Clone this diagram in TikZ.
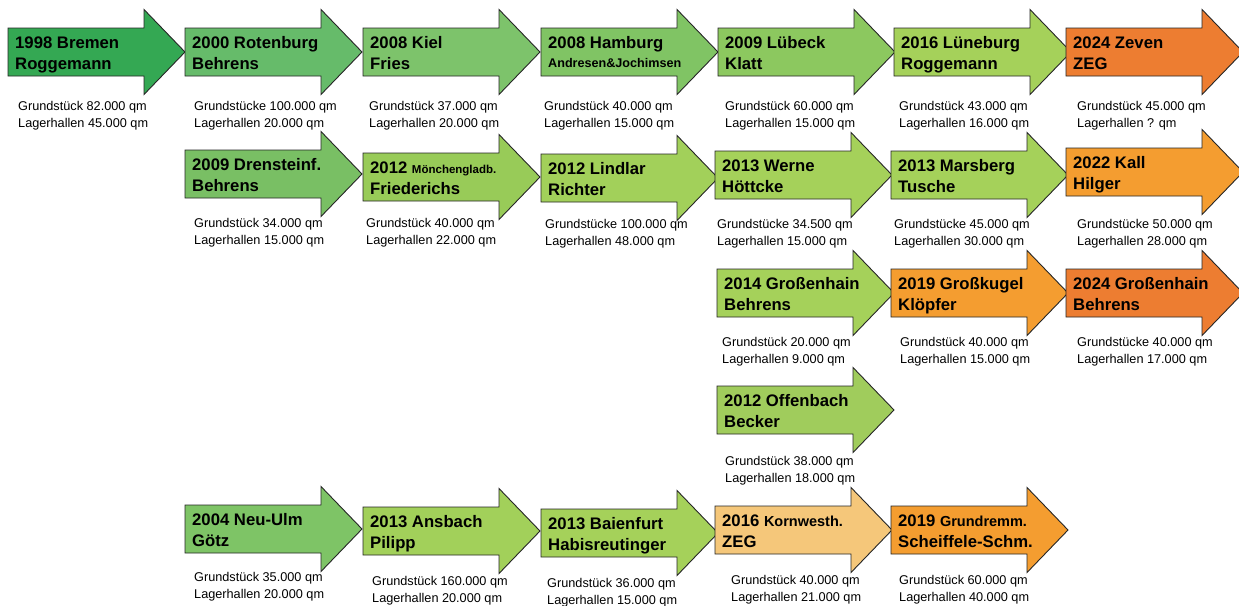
\documentclass[tikz,border=0pt]{standalone}
\usepackage{fontspec}
\setmainfont{Liberation Sans}
\definecolor{cA}{RGB}{52,168,83}
\definecolor{cB}{RGB}{102,187,106}
\definecolor{cC}{RGB}{125,195,107}
\definecolor{cD}{RGB}{128,196,100}
\definecolor{cE}{RGB}{140,200,95}
\definecolor{cF}{RGB}{165,209,90}
\definecolor{cG}{RGB}{121,191,100}
\definecolor{cH}{RGB}{152,203,88}
\definecolor{cI}{RGB}{162,208,90}
\definecolor{cJ}{RGB}{160,204,92}
\definecolor{cK}{RGB}{126,196,102}
\definecolor{oR}{RGB}{237,125,49}
\definecolor{oA}{RGB}{244,157,48}
\definecolor{oT}{RGB}{245,199,122}
\newcommand\tarrow[6]{%
  \path[arrowshape, fill=#4] (#2,#3-24) -- (#2+136,#3-24) -- (#2+136,#3-42.5) -- (#2+177,#3) -- (#2+136,#3+42.5) -- (#2+136,#3+24) -- (#2,#3+24) -- cycle;
  \node[ttl, anchor=base west] (#1a) at (#2+7,#3-4) {#5};
  \node[ttl, anchor=base west] (#1b) at (#2+7,#3+17) {#6};
}
\newcommand\tlabel[5]{%
  \node[lbl, anchor=west] (#1) at (#2,#3+2) {#4\\#5};
}
\newcommand\smf[2]{{\fontsize{#1}{#1}\selectfont #2}}
\begin{document}
\begin{tikzpicture}[x=1pt,y=-1pt,
  arrowshape/.style={draw=black!85, line width=0.9pt, line join=miter},
  ttl/.style={font=\fontsize{16.7}{20}\selectfont\bfseries, inner sep=0pt},
  lbl/.style={font=\fontsize{12.7}{17}\selectfont, align=left, inner sep=0pt}]
\useasboundingbox[fill=white] (0,0) rectangle (1239,605);
% Row 1
\tarrow{a1}{8}{52}{cA}{1998 Bremen}{Roggemann}
\tarrow{a2}{185}{52}{cB}{2000 Rotenburg}{Behrens}
\tarrow{a3}{363}{52}{cC}{2008 Kiel}{Fries}
\tarrow{a4}{541}{52}{cD}{2008 Hamburg}{}
\node[ttl, anchor=base west, font=\fontsize{12.6}{14}\selectfont\bfseries] (a4c) at (548,67) {Andresen\&Jochimsen};
\tarrow{a5}{718}{52}{cE}{2009 Lübeck}{Klatt}
\tarrow{a6}{894}{52}{cF}{2016 Lüneburg}{Roggemann}
\tarrow{a7}{1066}{52}{oR}{2024 Zeven}{ZEG}
\tlabel{l1}{18}{113.5}{Grundstück 82.000 qm}{Lagerhallen 45.000 qm}
\tlabel{l2}{194}{113.5}{Grundstücke 100.000 qm}{Lagerhallen 20.000 qm}
\tlabel{l3}{369}{113.5}{Grundstück 37.000 qm}{Lagerhallen 20.000 qm}
\tlabel{l4}{544}{113.5}{Grundstück 40.000 qm}{Lagerhallen 15.000 qm}
\tlabel{l5}{725}{113.5}{Grundstück 60.000 qm}{Lagerhallen 15.000 qm}
\tlabel{l6}{899}{113.5}{Grundstück 43.000 qm}{Lagerhallen 16.000 qm}
\tlabel{l7}{1077}{113.5}{Grundstück 45.000 qm}{Lagerhallen ? qm}
% Row 2
\tarrow{b1}{185}{174}{cG}{2009 Drensteinf.}{Behrens}
\tarrow{b2}{363}{177}{cH}{2012 \smf{11.5}{Mönchengladb.}}{Friederichs}
\tarrow{b3}{541}{178}{cI}{2012 Lindlar}{Richter}
\tarrow{b4}{715}{175}{cF}{2013 Werne}{Höttcke}
\tarrow{b5}{891}{175}{cF}{2013 Marsberg}{Tusche}
\tarrow{b6}{1066}{172}{oA}{2022 Kall}{Hilger}
\tlabel{m1}{194}{230.5}{Grundstück 34.000 qm}{Lagerhallen 15.000 qm}
\tlabel{m2}{366}{230.5}{Grundstück 40.000 qm}{Lagerhallen 22.000 qm}
\tlabel{m3}{545}{231.5}{Grundstücke 100.000 qm}{Lagerhallen 48.000 qm}
\tlabel{m4}{717}{231.5}{Grundstücke 34.500 qm}{Lagerhallen 15.000 qm}
\tlabel{m5}{894}{232}{Grundstücke 45.000 qm}{Lagerhallen 30.000 qm}
\tlabel{m6}{1077}{231.5}{Grundstücke 50.000 qm}{Lagerhallen 28.000 qm}
% Row 3
\tarrow{c1}{717}{293}{cF}{2014 Großenhain}{Behrens}
\tarrow{c2}{891}{293}{oA}{2019 Großkugel}{Klöpfer}
\tarrow{c3}{1066}{293}{oR}{2024 Großenhain}{Behrens}
\tlabel{n1}{722}{349.5}{Grundstück 20.000 qm}{Lagerhallen 9.000 qm}
\tlabel{n2}{900}{349.5}{Grundstück 40.000 qm}{Lagerhallen 15.000 qm}
\tlabel{n3}{1077}{349.5}{Grundstücke 40.000 qm}{Lagerhallen 17.000 qm}
% Row 4
\tarrow{d1}{717}{410}{cJ}{2012 Offenbach}{Becker}
\tlabel{o1}{725}{469}{Grundstück 38.000 qm}{Lagerhallen 18.000 qm}
% Row 5
\tarrow{e1}{185}{529}{cK}{2004 Neu-Ulm}{Götz}
\tarrow{e2}{363}{531}{cI}{2013 Ansbach}{Pilipp}
\tarrow{e3}{541}{533}{cF}{2013 Baienfurt}{Habisreutinger}
\tarrow{e4}{715}{530}{oT}{2016 \smf{14.5}{Kornwesth.}}{ZEG}
\tarrow{e5}{891}{530}{oA}{2019 \smf{14.5}{Grundremm.}}{Scheiffele-Schm.}
\tlabel{p1}{194}{585}{Grundstück 35.000 qm}{Lagerhallen 20.000 qm}
\tlabel{p2}{372}{588.5}{Grundstück 160.000 qm}{Lagerhallen 20.000 qm}
\tlabel{p3}{547}{591}{Grundstück 36.000 qm}{Lagerhallen 15.000 qm}
\tlabel{p4}{731}{588}{Grundstück 40.000 qm}{Lagerhallen 21.000 qm}
\tlabel{p5}{899}{588}{Grundstück 60.000 qm}{Lagerhallen 40.000 qm}
\end{tikzpicture}
\end{document}
